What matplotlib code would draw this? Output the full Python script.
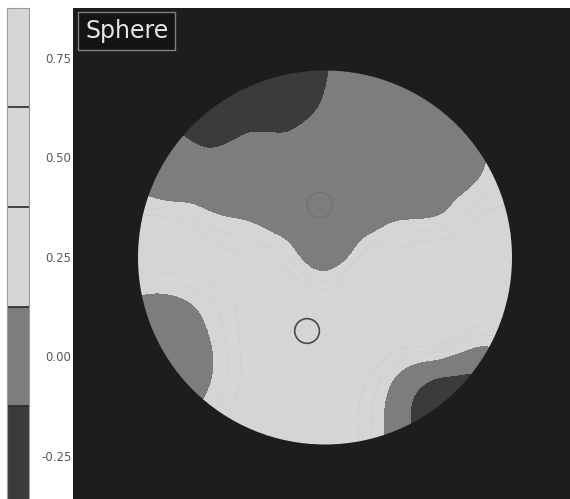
import numpy as np
import matplotlib
matplotlib.use("Agg")
import matplotlib.pyplot as plt
import matplotlib.tri as mtri
from matplotlib.colors import ListedColormap, BoundaryNorm
from matplotlib.cm import ScalarMappable
from matplotlib.patches import Circle

# sample grid over the measured zone (units of zone radius)
grid_u = np.linspace(-1.0, 1.0, 11)
grid_v = np.linspace(1.0, -1.0, 11)

# sphere values (D), row by row from top to bottom
sphere = [
    [-0.30, -0.30, -0.30, -0.30, -0.30, -0.15, 0.00, 0.00, 0.00, 0.00, 0.00],
    [-0.30, -0.30, -0.30, -0.30, -0.30, -0.08, 0.00, 0.00, 0.00, 0.00, 0.00],
    [0.00, -0.05, -0.14, -0.05, -0.04, 0.00, 0.00, 0.00, 0.00, 0.05, 0.20],
    [0.05, 0.00, 0.00, -0.02, -0.05, -0.05, -0.05, 0.00, 0.03, 0.12, 0.30],
    [0.35, 0.30, 0.17, 0.11, 0.00, -0.05, 0.00, 0.12, 0.15, 0.30, 0.35],
    [0.40, 0.40, 0.35, 0.30, 0.22, 0.00, 0.25, 0.35, 0.40, 0.40, 0.40],
    [0.13, 0.13, 0.25, 0.35, 0.40, 0.35, 0.40, 0.40, 0.40, 0.40, 0.40],
    [-0.05, -0.02, 0.15, 0.35, 0.40, 0.35, 0.40, 0.40, 0.40, 0.26, 0.30],
    [-0.10, -0.02, 0.12, 0.35, 0.40, 0.35, 0.35, 0.14, -0.02, -0.10, -0.10],
    [0.00, 0.00, 0.20, 0.35, 0.40, 0.40, 0.28, -0.02, -0.30, -0.30, -0.30],
    [0.00, 0.10, 0.30, 0.35, 0.40, 0.40, 0.28, -0.02, -0.30, -0.30, -0.30],
]

levels = [-0.375, -0.125, 0.125, 0.375, 0.625, 0.875]
band_colors = ["#3b3b3b", "#7d7d7d", "#d5d5d5", "#d5d5d5", "#d5d5d5"]
tick_values = [-0.25, 0.00, 0.25, 0.50, 0.75]

# reference marks (pupil centre, vertex)
marks_u = [-0.027, -0.096]
marks_v = [0.281, -0.393]
marks_color = ["#727272", "#4a4a4a"]

W, H = 570, 499
fig = plt.figure(figsize=(W / 100, H / 100), dpi=100, facecolor="white")

ax = fig.add_axes([73 / W, 0, (W - 73) / W, (H - 8) / H])
ax.set_facecolor("#1d1d1d")
ax.set_xlim((73 - 325) / 187, (W - 325) / 187)
ax.set_ylim((257.5 - H) / 187, (257.5 - 8) / 187)
ax.set_xticks([])
ax.set_yticks([])
for s in ax.spines.values():
    s.set_visible(False)

cmap = ListedColormap(band_colors)
cmap.set_under(band_colors[0])
cmap.set_over(band_colors[-1])
norm = BoundaryNorm(levels, cmap.N)

uu, vv = np.meshgrid(grid_u, grid_v)
tri = mtri.Triangulation(uu.ravel(), vv.ravel())
refiner = mtri.UniformTriRefiner(tri)
tri_f, z_f = refiner.refine_field(np.array(sphere).ravel(), subdiv=4)

zone = Circle((0, 0), 1.0, transform=ax.transData)
cf = ax.tricontourf(tri_f, z_f, levels=levels, cmap=cmap, norm=norm, extend="both")
cf.set_clip_path(zone)
cl = ax.tricontour(tri_f, z_f, levels=[0.22, 0.3], colors="#cbcbcb", linewidths=0.4)
cl.set_clip_path(zone)

ax.add_patch(Circle((marks_u[0], marks_v[0]), 0.068, fill=False,
                    edgecolor=marks_color[0], linewidth=1.0))
ax.add_patch(Circle((marks_u[1], marks_v[1]), 0.066, fill=False,
                    edgecolor=marks_color[1], linewidth=1.2))

ax.text(-1.283, 1.274, "Sphere", fontsize=17, color="#e6e6e6", va="top", ha="left",
        bbox=dict(boxstyle="square,pad=0.3", facecolor="#141414", edgecolor="#808080", linewidth=1))

# legend bar on the left
cax = fig.add_axes([7 / W, -6.5 / H, 22 / W, 497.5 / H])
cb = fig.colorbar(ScalarMappable(norm=norm, cmap=cmap), cax=cax, ticks=tick_values,
                  drawedges=True)
cb.minorticks_off()
cb.dividers.set_color("#2a2a2a")
cb.dividers.set_linewidth(1.2)
cb.outline.set_edgecolor("#9a9a9a")
cb.outline.set_linewidth(0.8)
cax.yaxis.set_ticks_position("right")
cax.tick_params(which="both", length=0, pad=30.5, labelsize=8.5, labelcolor="#5a5a5a")
cax.set_yticklabels([f"{t:.2f}" for t in tick_values])
plt.setp(cax.get_yticklabels(), ha="right")

fig.savefig("out.png", dpi=100, facecolor="white")
